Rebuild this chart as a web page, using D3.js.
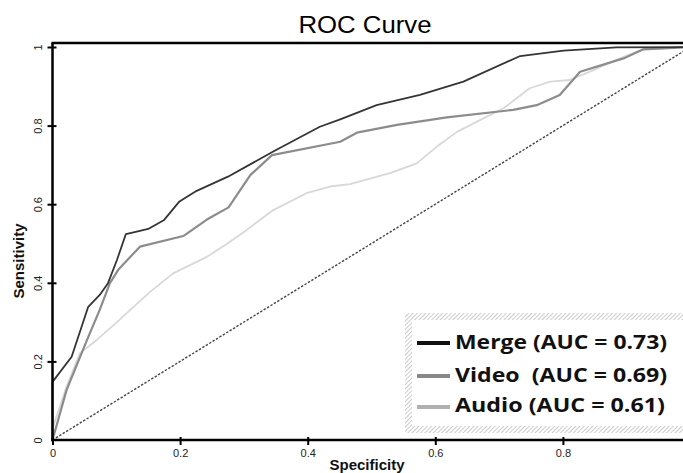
<!DOCTYPE html>
<html>
<head>
<meta charset="utf-8">
<script src="https://cdn.jsdelivr.net/npm/d3@7"></script>
<style>
  html, body { margin: 0; padding: 0; background: #fff; }
  svg { display: block; }
</style>
</head>
<body>
<svg id="chart" width="683" height="473"></svg>
<script>
// ---- data ----
const mergeX = [0, 0, 0.030, 0.056, 0.074, 0.087, 0.101, 0.115, 0.132, 0.150, 0.175, 0.199, 0.226, 0.275, 0.346, 0.419, 0.451, 0.508, 0.576, 0.644, 0.733, 0.801, 0.884, 1.0];
const mergeY = [0, 0.148, 0.212, 0.339, 0.369, 0.399, 0.458, 0.524, 0.530, 0.537, 0.560, 0.607, 0.634, 0.670, 0.734, 0.797, 0.816, 0.852, 0.878, 0.912, 0.977, 0.991, 0.999, 1.0];

const videoX = [0, 0.022, 0.054, 0.074, 0.090, 0.103, 0.137, 0.205, 0.242, 0.276, 0.310, 0.344, 0.451, 0.477, 0.540, 0.618, 0.722, 0.759, 0.795, 0.827, 0.895, 0.926, 1.0];
const videoY = [0, 0.127, 0.254, 0.331, 0.399, 0.433, 0.492, 0.519, 0.561, 0.592, 0.674, 0.725, 0.759, 0.782, 0.802, 0.821, 0.840, 0.852, 0.878, 0.937, 0.971, 0.994, 1.0];

const audioX = [0, 0.001, 0.022, 0.043, 0.069, 0.101, 0.121, 0.153, 0.189, 0.242, 0.273, 0.304, 0.346, 0.398, 0.435, 0.466, 0.529, 0.571, 0.602, 0.634, 0.670, 0.707, 0.748, 0.780, 0.811, 0.848, 0.895, 0.926, 1.0];
const audioY = [0, 0.034, 0.136, 0.221, 0.254, 0.300, 0.330, 0.377, 0.424, 0.466, 0.499, 0.534, 0.585, 0.628, 0.645, 0.651, 0.679, 0.704, 0.746, 0.784, 0.814, 0.844, 0.895, 0.912, 0.916, 0.941, 0.975, 0.994, 1.0];

const xTicks = [0, 0.2, 0.4, 0.6, 0.8];
const yTicks = [0, 0.2, 0.4, 0.6, 0.8, 1];
const seriesNames = ["Merge", "Video", "Audio"];
const legendLabels = ["Merge (AUC = 0.73)", "Video  (AUC = 0.69)", "Audio (AUC = 0.61)"];
const titleText = "ROC Curve";
const xLabel = "Specificity";
const yLabel = "Sensitivity";

// ---- setup ----
const svg = d3.select("#chart");
const x = d3.scaleLinear().domain([0, 1]).range([52.5, 690.5]);
const y = d3.scaleLinear().domain([0, 1]).range([440, 47]);

const defs = svg.append("defs");
const pat = defs.append("pattern").attr("id", "hatch")
  .attr("patternUnits", "userSpaceOnUse").attr("width", 3).attr("height", 3)
  .attr("patternTransform", "rotate(45)");
pat.append("rect").attr("width", 3).attr("height", 3).attr("fill", "#fff");
pat.append("line").attr("x1", 0).attr("y1", 0).attr("x2", 0).attr("y2", 3)
  .attr("stroke", "#b5b5b5").attr("stroke-width", 1.4);

// title
svg.append("text").attr("x", 365).attr("y", 33).attr("text-anchor", "middle")
  .attr("font-family", "Liberation Sans, Arial, sans-serif").attr("font-size", 23)
  .attr("textLength", 133).attr("lengthAdjust", "spacingAndGlyphs")
  .attr("fill", "#000").text(titleText);

// diagonal reference
svg.append("line")
  .attr("x1", x(0)).attr("y1", y(0)).attr("x2", x(1)).attr("y2", y(1))
  .attr("stroke", "#444").attr("stroke-width", 1.4).attr("stroke-dasharray", "2.4,1.6");

// curves
const line = d3.line().x(d => x(d[0])).y(d => y(d[1]));
const series = [
  { name: seriesNames[2], xs: audioX, ys: audioY, color: "#d8d8d8", w: 1.8 },
  { name: seriesNames[1], xs: videoX, ys: videoY, color: "#8c8c8c", w: 2.2 },
  { name: seriesNames[0], xs: mergeX, ys: mergeY, color: "#353535", w: 1.8 }
];
series.forEach(s => {
  svg.append("path")
    .datum(s.xs.map((v, i) => [v, s.ys[i]]))
    .attr("d", line).attr("fill", "none")
    .attr("stroke", s.color).attr("stroke-width", s.w)
    .attr("stroke-linejoin", "round");
});

// top border
svg.append("line").attr("x1", x(0) - 1).attr("x2", 683).attr("y1", 43).attr("y2", 43)
  .attr("stroke", "#000").attr("stroke-width", 2.5);

// axes
const xAxis = svg.append("g").attr("transform", `translate(0,${y(0)})`)
  .call(d3.axisBottom(x).tickValues(xTicks).tickFormat(d3.format("~g")).tickSizeOuter(0));
xAxis.select(".domain").remove();
xAxis.append("line").attr("x1", x(0) - 1.2).attr("x2", 683).attr("stroke", "#000").attr("stroke-width", 2.5);
xAxis.selectAll(".tick line").attr("y1", -3).attr("y2", 5).attr("stroke-width", 2);
xAxis.selectAll(".tick text").attr("y", 17).attr("dy", 0)
  .attr("font-family", "Liberation Sans, Arial, sans-serif").attr("font-size", 11).attr("fill", "#222");

const yAxis = svg.append("g").attr("transform", `translate(${x(0)},0)`)
  .call(d3.axisLeft(y).tickValues(yTicks).tickFormat(d3.format("~g")).tickSizeOuter(0));
yAxis.select(".domain").remove();
yAxis.append("line").attr("y1", 43).attr("y2", y(0) + 1.2).attr("stroke", "#000").attr("stroke-width", 2.5);
yAxis.selectAll(".tick line").attr("x1", 4).attr("x2", -5).attr("stroke-width", 2);
yAxis.selectAll(".tick text")
  .attr("x", null).attr("dy", null).attr("text-anchor", "middle")
  .attr("transform", "translate(-11,0) rotate(-90)")
  .attr("font-family", "Liberation Sans, Arial, sans-serif").attr("font-size", 11).attr("fill", "#222");
yAxis.selectAll(".tick").filter(d => d === 0).select("line").remove();

// axis titles
svg.append("text").attr("x", 367).attr("y", 470).attr("text-anchor", "middle")
  .attr("font-family", "Liberation Sans, Arial, sans-serif").attr("font-weight", "bold")
  .attr("font-size", 15).attr("fill", "#111").text(xLabel);
svg.append("text").attr("transform", "translate(24,261) rotate(-90)").attr("text-anchor", "middle")
  .attr("font-family", "Liberation Sans, Arial, sans-serif").attr("font-weight", "bold")
  .attr("font-size", 15).attr("fill", "#111").text(yLabel);

// legend
const lg = svg.append("g");
lg.append("rect").attr("x", 405).attr("y", 313).attr("width", 290).attr("height", 120).attr("fill", "url(#hatch)");
lg.append("rect").attr("x", 412).attr("y", 320).attr("width", 276).attr("height", 106).attr("fill", "#fff");
const legendColors = ["#111", "#888", "#b0b0b0"];
const legendLineY = [343, 376, 407];
const legendTextY = [349, 382, 412];
const legendWidths = [212, 212, 210];
legendLabels.forEach((t, i) => {
  lg.append("line").attr("x1", 417).attr("x2", 450).attr("y1", legendLineY[i]).attr("y2", legendLineY[i])
    .attr("stroke", legendColors[i]).attr("stroke-width", 3.8);
  lg.append("text").attr("x", 455).attr("y", legendTextY[i])
    .attr("font-family", "Open Sans, Noto Sans, sans-serif").attr("font-weight", "bold")
    .attr("font-size", 20).attr("fill", "#111")
    .attr("textLength", legendWidths[i]).attr("lengthAdjust", "spacingAndGlyphs")
    .style("white-space", "pre").text(t);
});
</script>
</body>
</html>
